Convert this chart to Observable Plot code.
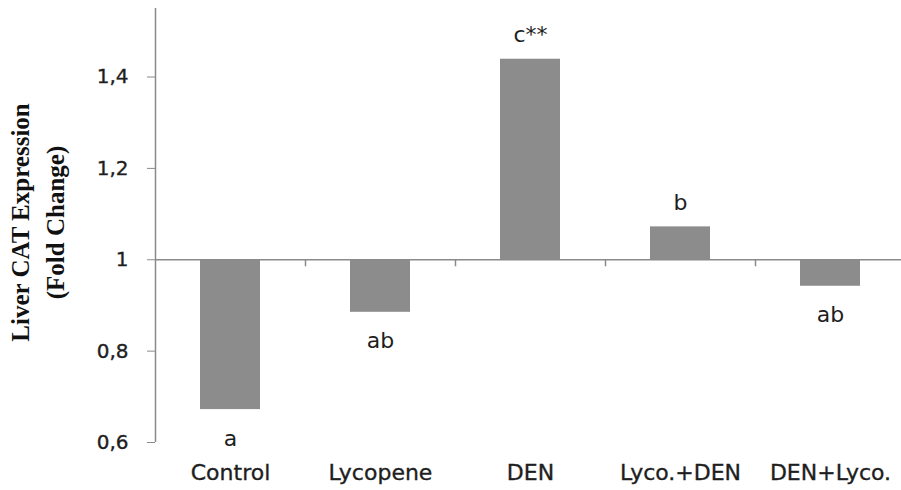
<!DOCTYPE html>
<html>
<head>
<meta charset="utf-8">
<script src="https://cdn.jsdelivr.net/npm/d3@7"></script>
<script src="https://cdn.jsdelivr.net/npm/@observablehq/plot@0.6"></script>
<style>
  body { margin: 0; background: #fff; }
  #chart svg { font-family: "DejaVu Sans", sans-serif; }
  g[aria-label="y-axis tick label"] text,
  g[aria-label="x-axis tick label"] text,
  g[aria-label="letters"] text { stroke: #1e1e1e; stroke-width: 0.35px; }
</style>
</head>
<body>
<div id="chart"></div>
<script>
const groups = ["Control", "Lycopene", "DEN", "Lyco.+DEN", "DEN+Lyco."];
const values = [0.672, 0.885, 1.439, 1.072, 0.942];
const letters = ["a", "ab", "c**", "b", "ab"];
const yTicks = [0.6, 0.8, 1, 1.2, 1.4];
const yTitle = "Liver CAT Expression\n(Fold Change)";

const data = groups.map((g, i) => ({group: g, value: values[i], letter: letters[i]}));
const above = data.filter(d => d.value >= 1);
const below = data.filter(d => d.value < 1);

const chart = Plot.plot({
  width: 901,
  height: 490,
  marginLeft: 155,
  marginRight: 0,
  marginTop: 8,
  marginBottom: 48,
  x: {domain: groups, range: [155, 905], paddingInner: 0.6, paddingOuter: 0.3},
  y: {domain: [0.6, 1.55]},
  marks: [
    Plot.barY(data, {x: "group", y1: 1, y2: "value", fill: "#8c8c8c"}),
    Plot.ruleY([1], {stroke: "#8a8a8a", strokeWidth: 1.5}),
    // category boundary ticks on the baseline
    Plot.ruleX(groups.slice(0, -1), {x: d => d, y1: 1, y2: 1, dx: 75, insetBottom: -7, stroke: "#8a8a8a", strokeWidth: 1.5}),
    // y axis line
    Plot.ruleX([groups[0]], {x: d => d, y1: 0.6, y2: 1.55, dx: -75, stroke: "#8a8a8a", strokeWidth: 1.5}),
    Plot.axisY({
      ticks: yTicks,
      tickFormat: d => String(d).replace(".", ","),
      tickSize: 8,
      tickPadding: 19,
      fontSize: 20,
      stroke: "#8a8a8a",
      fill: "#1e1e1e",
      label: null
    }),
    Plot.axisX({
      tickSize: 0,
      tickPadding: 22,
      fontSize: 22,
      fill: "#1e1e1e",
      label: null
    }),
    Plot.text(above, {x: "group", y: "value", text: "letter", dy: -24, fontSize: 22, fill: "#1e1e1e", ariaLabel: "letters"}),
    Plot.text(below, {x: "group", y: "value", text: "letter", dy: 29, fontSize: 22, fill: "#1e1e1e", ariaLabel: "letters"}),
    Plot.text([yTitle], {
      frameAnchor: "left",
      text: d => d,
      rotate: -90,
      textAnchor: "middle",
      dx: -120,
      dy: -3,
      lineHeight: 1.4,
      fontSize: 25,
      fontWeight: "bold",
      fontFamily: "Liberation Serif",
      fill: "#111",
      ariaLabel: "ytitle"
    })
  ]
});
document.getElementById("chart").appendChild(chart);
</script>
</body>
</html>
